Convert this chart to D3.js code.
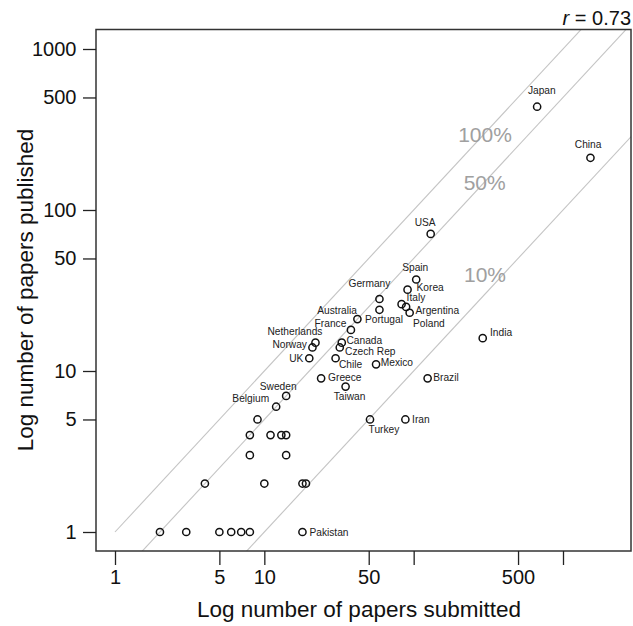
<!DOCTYPE html>
<html>
<head>
<meta charset="utf-8">
<script src="https://cdn.jsdelivr.net/npm/d3@7"></script>
<style>
  html, body { margin: 0; padding: 0; background: #fff; }
  svg { display: block; font-family: "Liberation Sans", Arial, Helvetica, sans-serif; }
</style>
</head>
<body>
<svg id="chart" width="633" height="626"></svg>
<script>
// ---- data ----
const countries = ["", "", "", "", "", "", "Pakistan",
  "", "", "", "",
  "", "",
  "", "", "", "",
  "", "Belgium", "Sweden",
  "Greece", "Taiwan", "UK", "Norway", "Netherlands", "Chile", "Czech Rep", "Canada",
  "France", "Portugal", "Australia", "Germany", "Spain", "Korea", "Italy", "Argentina",
  "Poland", "Mexico", "Brazil", "USA", "Japan", "China", "India", "Turkey", "Iran"];
const submitted = [2, 3, 5, 6, 7, 8, 18,
  4, 10, 18, 19,
  8, 14,
  8, 11, 13, 14,
  9, 12, 14,
  24, 35, 20, 21, 22, 30, 32, 33,
  38, 42, 59, 59, 104, 91, 83, 89,
  94, 56, 124, 130, 671, 1527, 290, 51, 88];
const published = [1, 1, 1, 1, 1, 1, 1,
  2, 2, 2, 2,
  3, 3,
  4, 4, 4, 4,
  5, 6, 7,
  9, 8, 12, 14, 15, 12, 14, 15,
  18, 21, 24, 28, 37, 32, 26, 25,
  23, 11, 9, 71, 438, 211, 16, 5, 5];
const xTicks = [1, 5, 10, 50, 100, 500, 1000];
const xTickLabels = ["1", "5", "10", "50", "", "500", ""];
const yTicks = [1, 5, 10, 50, 100, 500, 1000];
const yTickLabels = ["1", "5", "10", "50", "100", "500", "1000"];
const ratios = [1, 0.5, 0.1];
const ratioLabels = ["100%", "50%", "10%"];
const rValue = "0.73";

// ---- label placement (style): [anchor, dx, dy-from-center] ----
const labelPos = {
  "Pakistan": ["start", 7, 0], "Belgium": ["end", -7, -8], "Sweden": ["middle", -8, -10],
  "Greece": ["start", 7, -1], "Taiwan": ["middle", 4, 9.5], "UK": ["end", -6, 0],
  "Norway": ["end", -5.5, -3.3], "Netherlands": ["end", 7, -11], "Chile": ["start", 3.3, 6.4],
  "Czech Rep": ["start", 5.3, 4.3], "Canada": ["start", 4.7, -2.4], "France": ["end", -4.6, -6.7],
  "Portugal": ["start", 7.6, 0.3], "Australia": ["end", -22.5, 0.7], "Germany": ["middle", -10, -16],
  "Spain": ["middle", -1, -12.5], "Korea": ["start", 9, -2.7], "Italy": ["start", 5, -6.5],
  "Argentina": ["start", 9.4, 3.8], "Poland": ["start", 3.4, 10.3], "Mexico": ["start", 4.7, -2.4],
  "Brazil": ["start", 5.6, -1.4], "USA": ["middle", -5.5, -12], "Japan": ["middle", 4.7, -16.7],
  "China": ["middle", -2.3, -13.4], "India": ["start", 7.3, -5.6], "Turkey": ["middle", 14, 9.4],
  "Iran": ["start", 6.7, 0]
};

// ---- layout ----
const box = { left: 96, right: 631, top: 29.5, bottom: 551 };
const svg = d3.select("#chart");

const x = d3.scaleLog().domain([1, 1000]).range([115, 563]);
const y = d3.scaleLog().domain([1, 1000]).range([532, 49]);

svg.append("defs").append("clipPath").attr("id", "clip")
  .append("rect")
  .attr("x", box.left).attr("y", box.top)
  .attr("width", box.right - box.left).attr("height", box.bottom - box.top);

// reference lines
const refG = svg.append("g").attr("clip-path", "url(#clip)");
ratios.forEach(r => {
  refG.append("line")
    .attr("x1", x(1)).attr("y1", y(r * 1))
    .attr("x2", x(5000)).attr("y2", y(r * 5000))
    .attr("stroke", "#c4c4c4").attr("stroke-width", 1.1);
});

// ratio labels
const ratioLabelAt = [[485, 141.7], [484.7, 190], [485, 281.7]];
ratioLabels.forEach((t, i) => {
  svg.append("text")
    .attr("x", ratioLabelAt[i][0]).attr("y", ratioLabelAt[i][1])
    .attr("text-anchor", "middle")
    .attr("font-size", 21).attr("fill", "#a0a0a0")
    .text(t);
});

// box
svg.append("rect")
  .attr("x", box.left).attr("y", box.top)
  .attr("width", box.right - box.left).attr("height", box.bottom - box.top)
  .attr("fill", "none").attr("stroke", "#333").attr("stroke-width", 1.5);

// x axis
const xAxis = d3.axisBottom(x).tickValues(xTicks)
  .tickFormat((d, i) => xTickLabels[i]).tickSize(14).tickPadding(5);
const gx = svg.append("g").attr("transform", `translate(0,${box.bottom})`).call(xAxis);
gx.select(".domain").remove();
gx.selectAll(".tick line").attr("stroke", "#222").attr("stroke-width", 1.3);
gx.selectAll(".tick text").attr("font-size", 20).attr("fill", "#111")
  .attr("font-family", "Liberation Sans, Arial, sans-serif");

// y axis
const yAxis = d3.axisLeft(y).tickValues(yTicks)
  .tickFormat((d, i) => yTickLabels[i]).tickSize(13).tickPadding(6.5);
const gy = svg.append("g").attr("transform", `translate(${box.left},0)`).call(yAxis);
gy.select(".domain").remove();
gy.selectAll(".tick line").attr("stroke", "#222").attr("stroke-width", 1.3);
gy.selectAll(".tick text").attr("font-size", 20).attr("fill", "#111")
  .attr("font-family", "Liberation Sans, Arial, sans-serif");

// axis titles
svg.append("text")
  .attr("x", 359).attr("y", 616.5)
  .attr("text-anchor", "middle").attr("font-size", 22.5).attr("fill", "#111")
  .text("Log number of papers submitted");
svg.append("text")
  .attr("transform", "translate(33,290) rotate(-90)")
  .attr("text-anchor", "middle").attr("font-size", 22.5).attr("fill", "#111")
  .text("Log number of papers published");

// r value
const rt = svg.append("text")
  .attr("x", 631).attr("y", 25)
  .attr("text-anchor", "end").attr("font-size", 20).attr("fill", "#111");
rt.append("tspan").attr("font-style", "italic").text("r");
rt.append("tspan").text(" = " + rValue);

// points
const pts = countries.map((c, i) => ({ name: c, sx: submitted[i], py: published[i] }));
svg.append("g").selectAll("circle").data(pts).join("circle")
  .attr("cx", d => x(d.sx)).attr("cy", d => y(d.py))
  .attr("r", 3.6)
  .attr("fill", "none").attr("stroke", "#111").attr("stroke-width", 1.5);

// labels
svg.append("g").selectAll("text").data(pts.filter(d => d.name !== "")).join("text")
  .attr("x", d => x(d.sx) + labelPos[d.name][1])
  .attr("y", d => y(d.py) + labelPos[d.name][2] + 3.7)
  .attr("text-anchor", d => labelPos[d.name][0])
  .attr("font-size", 10.2).attr("fill", "#222")
  .text(d => d.name);
</script>
</body>
</html>
